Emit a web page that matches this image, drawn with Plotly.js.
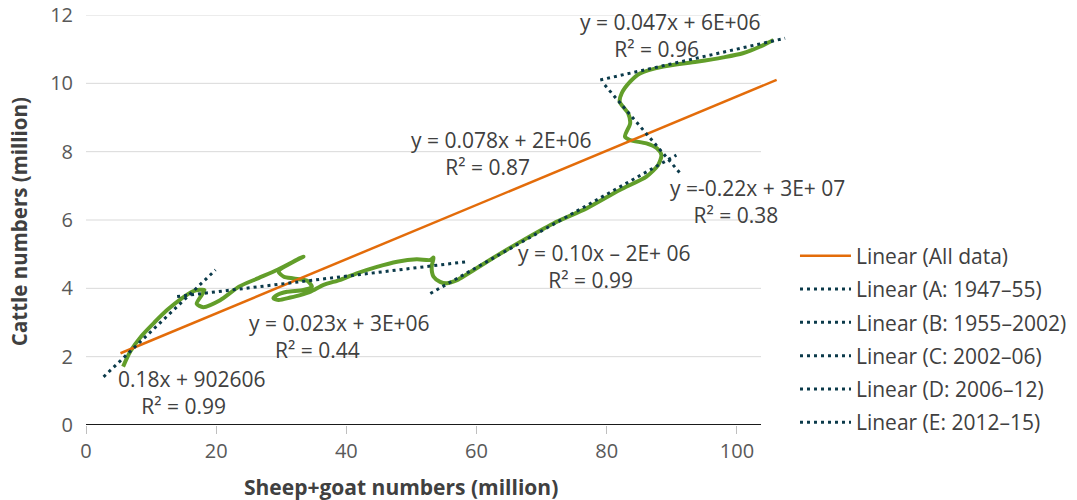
<!DOCTYPE html>
<html>
<head>
<meta charset="utf-8">
<script src="https://cdn.plot.ly/plotly-3.0.1.min.js"></script>
<style>html,body{margin:0;padding:0;background:#fff;}#chart{width:1077px;height:500px;}</style>
</head>
<body>
<div id="chart"></div>
<script>
// Observed series (million head), chronological 1947 -> 2015
const sheepGoat = [5.7, 6.8, 8.5, 10.5, 12.5, 14.5, 16.5, 18.2,
  17.0, 18.0, 20.6, 23.5, 26.5, 29.5, 33.4, 29.6, 30.4, 31.9, 34.0, 34.7, 33.4, 30.9, 29.3, 28.8, 29.6, 31.4, 32.9, 34.5, 36.5, 39.1,
  41.6, 44.7, 47.8, 50.8, 52.9, 53.4, 53.1, 53.4, 54.4, 55.4,
  57.0, 61.6, 66.7, 71.8, 76.9, 82.0, 86.1, 87.9, 88.4,
  87.7, 86.1, 83.6, 82.8, 83.6, 83.3, 82.0, 82.3,
  83.6, 85.1, 88.7, 93.8, 97.9, 100.9, 103.5, 105.6];
const cattle = [1.71, 2.15, 2.6, 3.0, 3.37, 3.68, 3.92, 3.95,
  3.55, 3.45, 3.65, 4.05, 4.3, 4.55, 4.93, 4.49, 4.34, 4.29, 4.22, 4.05, 3.95, 3.9, 3.8, 3.71, 3.66, 3.73, 3.8, 3.9, 4.1, 4.25,
  4.44, 4.63, 4.78, 4.85, 4.83, 4.9, 4.63, 4.34, 4.19, 4.15,
  4.24, 4.78, 5.36, 5.9, 6.34, 6.88, 7.27, 7.61, 7.9,
  8.1, 8.24, 8.34, 8.44, 8.83, 9.12, 9.46, 9.71,
  10.05, 10.29, 10.49, 10.63, 10.76, 10.88, 11.07, 11.27];

// Trendlines (end points)
const trendNames = ['Linear (All data)', 'Linear (A: 1947–55)', 'Linear (B: 1955–2002)',
  'Linear (C: 2002–06)', 'Linear (D: 2006–12)', 'Linear (E: 2012–15)'];
const trendXStart = [5.3, 2.7, 14.0, 52.9, 79.7, 79.0];
const trendXEnd   = [106.1, 19.9, 58.5, 90.7, 91.5, 107.4];
const trendYStart = [2.10, 1.41, 3.76, 3.85, 9.95, 10.10];
const trendYEnd   = [10.10, 4.54, 4.78, 7.90, 7.32, 11.32];

// Trendline labels
const eqText = ['y = 0.078x + 2E+06', '0.18x + 902606', 'y = 0.023x + 3E+06',
  'y = 0.10x – 2E+ 06', 'y =-0.22x + 3E+ 07', 'y = 0.047x + 6E+06'];
const r2Text = ['R² = 0.87', 'R² = 0.99', 'R² = 0.44', 'R² = 0.99', 'R² = 0.38', 'R² = 0.96'];

// Axis ticks
const xTicks = [0, 20, 40, 60, 80, 100];
const yTicks = [0, 2, 4, 6, 8, 10, 12];

const FONT = 'Open Sans, Noto Sans, sans-serif';
const traces = [];
traces.push({
  x: sheepGoat, y: cattle, type: 'scatter', mode: 'lines',
  line: {color: '#629e2a', width: 4, shape: 'spline', smoothing: 0.7},
  showlegend: false, hoverinfo: 'skip'
});
for (let i = 0; i < trendNames.length; i++) {
  const isAll = i === 0;
  traces.push({
    x: [trendXStart[i], trendXEnd[i]], y: [trendYStart[i], trendYEnd[i]],
    type: 'scatter', mode: 'lines', name: trendNames[i],
    legendgroup: 'g' + i,
    line: isAll ? {color: '#e36c0a', width: 2.5} : {color: '#0b3a4a', width: 3, dash: '3px,4px'}
  });
}

const X_END = 103.7;
const shapes = [];
yTicks.filter(v => v > 0).forEach(v => shapes.push({
  type: 'line', xref: 'x', yref: 'y', x0: 0, x1: X_END, y0: v, y1: v,
  line: {color: '#d9d9d9', width: 1}, layer: 'below'
}));
shapes.push({type: 'line', xref: 'x', yref: 'y', x0: 0, x1: X_END, y0: 0, y1: 0,
  line: {color: '#1a1a1a', width: 2}, layer: 'below'});

// label block centre (x, y) and number of trailing spaces that shift the R² line left
const eqPos = [[63.85, 7.96, 5], [16.35, 0.94, 3], [38.91, 2.60, 8],
  [79.59, 4.65, 5], [103.22, 6.53, 8], [89.72, 11.40, 5]];
const annotations = [];
for (let i = 0; i < eqText.length; i++) {
  const p = eqPos[i];
  annotations.push({xref: 'x', yref: 'y', x: p[0], y: p[1],
    text: eqText[i] + '<br>' + r2Text[i] + '&nbsp;'.repeat(p[2]), showarrow: false, align: 'center',
    xanchor: 'center', yanchor: 'middle', font: {family: FONT, size: 21, color: '#404040'}});
}
annotations.push({xref: 'x', yref: 'paper', x: 48.4, y: -0.151, text: '<b>Sheep+goat numbers (million)</b>',
  showarrow: false, xanchor: 'center', yanchor: 'middle', font: {family: FONT, size: 21, color: '#404040'}});
annotations.push({xref: 'paper', yref: 'paper', x: -0.096, y: 0.496, text: '<b>Cattle numbers (million)</b>',
  textangle: -90, showarrow: false, xanchor: 'center', yanchor: 'middle', font: {family: FONT, size: 20.5, color: '#404040'}});

const layout = {
  width: 1077, height: 500,
  margin: {l: 86, r: 288, t: 15, b: 75, autoexpand: false},
  paper_bgcolor: '#fff', plot_bgcolor: '#fff',
  font: {family: FONT, size: 20, color: '#595959'},
  xaxis: {range: [0, 108], tickvals: xTicks, showgrid: false, zeroline: false, showline: false,
    ticks: 'outside', ticklen: 8, tickcolor: '#bfbfbf', tickwidth: 1, automargin: false,
    tickfont: {family: FONT, size: 20, color: '#595959'}},
  yaxis: {range: [0, 12], tickvals: yTicks, showgrid: false, zeroline: false, showline: false,
    ticks: '', ticklabelstandoff: 12, automargin: false,
    tickfont: {family: FONT, size: 20, color: '#595959'}},
  showlegend: true,
  legend: {x: 1.0085, xanchor: 'left', y: 0.462, yanchor: 'top', traceorder: 'grouped',
    tracegroupgap: 3, itemwidth: 51, bgcolor: 'rgba(0,0,0,0)',
    font: {family: FONT, size: 21, color: '#404040'}},
  shapes: shapes,
  annotations: annotations
};

Plotly.newPlot('chart', traces, layout, {displayModeBar: false, staticPlot: true});
</script>
</body>
</html>
